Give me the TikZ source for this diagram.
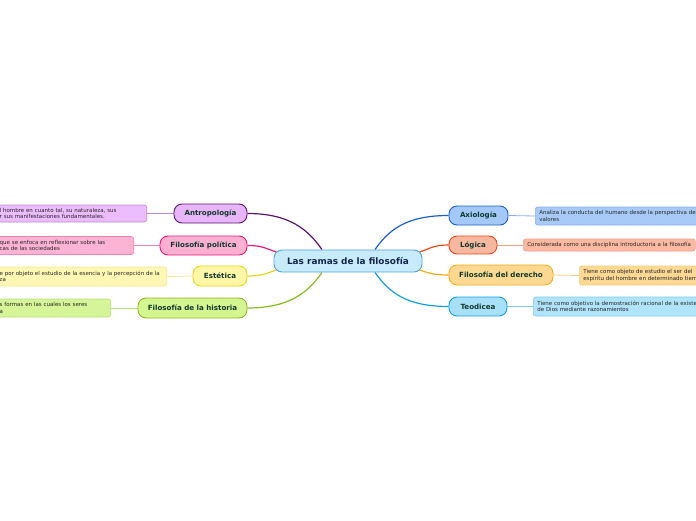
\documentclass[tikz,border=0pt]{standalone}
\usepackage{fontspec}
\setmainfont{DejaVu Sans}
\usetikzlibrary{calc,backgrounds}
\definecolor{toptext}{HTML}{0F3A2E}
\definecolor{maintext}{HTML}{14264A}
\definecolor{cfill}{HTML}{C8EBFB}\definecolor{cdraw}{HTML}{4FA3DC}
\definecolor{afill}{HTML}{E8B6F8}\definecolor{adraw}{HTML}{5A1470}\definecolor{adfill}{HTML}{ECBDFC}\definecolor{adln}{HTML}{B888D0}
\definecolor{pfill}{HTML}{FBB0D2}\definecolor{pdraw}{HTML}{E8187A}\definecolor{pdfill}{HTML}{FDB3D3}\definecolor{pdln}{HTML}{F080B0}
\definecolor{efill}{HTML}{FFF6A8}\definecolor{edraw}{HTML}{E8D418}\definecolor{edfill}{HTML}{FFF8B4}\definecolor{edln}{HTML}{F4E890}
\definecolor{hfill}{HTML}{D4F590}\definecolor{hdraw}{HTML}{8AB820}\definecolor{hdfill}{HTML}{D6F598}\definecolor{hdln}{HTML}{B8E07A}
\definecolor{xfill}{HTML}{A4C8F8}\definecolor{xdraw}{HTML}{1A5FCC}\definecolor{xdfill}{HTML}{A8CAF8}\definecolor{xdln}{HTML}{88B0EC}
\definecolor{lfill}{HTML}{F8B8A0}\definecolor{ldraw}{HTML}{F04818}\definecolor{ldfill}{HTML}{FBB9A2}\definecolor{ldln}{HTML}{F4A088}
\definecolor{dfill}{HTML}{FDD890}\definecolor{ddraw}{HTML}{F4AC18}\definecolor{ddfill}{HTML}{FDD993}\definecolor{ddln}{HTML}{F4CC80}
\definecolor{tfill}{HTML}{A8E0F8}\definecolor{tdraw}{HTML}{10A0E0}\definecolor{tdfill}{HTML}{B0E4FA}\definecolor{tdln}{HTML}{80CCF0}
\begin{document}
\begin{tikzpicture}[x=1pt,y=-1pt,
  topic/.style={draw, rounded corners=8pt, line width=0.9pt, font=\bfseries\fontsize{7.1}{8}\selectfont, text=toptext, inner sep=0pt},
  detail/.style={draw, rounded corners=2.5pt, line width=0.6pt, font=\fontsize{5.5}{6.6}\selectfont, align=left, inner xsep=4pt, inner ysep=0pt, text=black!85},
  mainln/.style={line width=1.2pt},
  subln/.style={line width=0.8pt}]
\useasboundingbox (0,0) rectangle (696,520);
\clip (0,0) rectangle (696,520);
% central
\node[draw=cdraw, fill=cfill, rounded corners=8pt, line width=0.9pt, minimum width=148pt, minimum height=22pt, inner sep=0pt, font=\bfseries\fontsize{8.9}{10}\selectfont, text=maintext] (c) at (348,261) {Las ramas de la filosofía};
% topics left
\node[topic, draw=adraw, fill=afill, minimum width=73pt, minimum height=19pt] (a) at (210.5,213.5) {Antropología};
\node[topic, draw=pdraw, fill=pfill, minimum width=87pt, minimum height=19pt] (p) at (203.5,245.5) {Filosofía política};
\node[topic, draw=edraw, fill=efill, minimum width=54pt, minimum height=20pt] (e) at (220,276) {Estética};
\node[topic, draw=hdraw, fill=hfill, minimum width=109pt, minimum height=20pt] (h) at (192.5,308) {Filosofía de la historia};
% topics right
\node[topic, draw=xdraw, fill=xfill, minimum width=59pt, minimum height=19pt] (x) at (478.5,215.5) {Axiología};
\node[topic, draw=ldraw, fill=lfill, minimum width=48pt, minimum height=18pt] (l) at (473,245) {Lógica};
\node[topic, draw=ddraw, fill=dfill, minimum width=104pt, minimum height=20pt] (d) at (501,275) {Filosofía del derecho};
\node[topic, draw=tdraw, fill=tfill, minimum width=58pt, minimum height=19pt] (t) at (478,306.5) {Teodicea};
% details left
\node[detail, draw=adln, fill=adfill, anchor=east, text width=142pt, inner xsep=5pt, minimum height=17pt] (ad) at (147,213.5) {l hombre en cuanto tal, su naturaleza, sus\\r sus manifestaciones fundamentales.};
\node[detail, draw=pdln, fill=pdfill, anchor=east, text width=129pt, inner xsep=5pt, minimum height=18pt] (pd) at (134,245.5) {que se enfoca en reflexionar sobre las\\cas de las sociedades};
\node[detail, draw=edln, fill=edfill, anchor=east, text width=162pt, inner xsep=5pt, minimum height=19pt] (ed) at (167,276.5) {e por objeto el estudio de la esencia y la percepción de la\\za};
\node[detail, draw=hdln, fill=hdfill, anchor=east, text width=106pt, inner xsep=5pt, minimum height=18pt] (hd) at (111,308) {s formas en las cuales los seres\\a};
% details right
\node[detail, draw=xdln, fill=xdfill, anchor=west, text width=200pt, minimum height=18pt] (xd) at (535,216) {Analiza la conducta del humano desde la perspectiva de\\valores};
\node[detail, draw=ldln, fill=ldfill, anchor=west, text width=164pt, minimum height=12pt] (ld) at (523,245) {Considerada como una disciplina introductoria a la filosofía};
\node[detail, draw=ddln, fill=ddfill, anchor=west, text width=180pt, minimum height=19pt] (dd) at (579,275.5) {Tiene como objeto de estudio el ser del\\espíritu del hombre en determinado tiem};
\node[detail, draw=tdln, fill=tdfill, anchor=west, text width=200pt, minimum height=19pt] (td) at (533,306.5) {Tiene como objetivo la demostración racional de la existe\\de Dios mediante razonamientos};
\begin{scope}[on background layer]
% main connectors
\draw[mainln, adraw] (a.east) .. controls +(42,0) and +(-14,-20) .. ([xshift=-26pt]c.north);
\draw[mainln, pdraw] (p.east) .. controls +(16,0) and +(-10,-3) .. ([yshift=9pt,xshift=3pt]c.west);
\draw[mainln, edraw] (e.east) .. controls +(16,0) and +(-10,3) .. ([yshift=-9pt,xshift=3pt]c.west);
\draw[mainln, hdraw] (h.east) .. controls +(42,0) and +(-14,20) .. ([xshift=-26pt]c.south);
\draw[mainln, xdraw] (x.west) .. controls +(-42,0) and +(14,-20) .. ([xshift=27pt]c.north);
\draw[mainln, ldraw] (l.west) .. controls +(-16,0) and +(10,-3) .. ([yshift=9pt,xshift=-3pt]c.east);
\draw[mainln, ddraw] (d.west) .. controls +(-16,0) and +(10,3) .. ([yshift=-9pt,xshift=-3pt]c.east);
\draw[mainln, tdraw] (t.west) .. controls +(-42,0) and +(14,20) .. ([xshift=27pt]c.south);
% sub connectors
\draw[subln, adln] (a.west) -- (ad.east);
\draw[subln, pdln] (p.west) -- (pd.east);
\draw[subln, edln] (e.west) -- (ed.east);
\draw[subln, hdln] (h.west) -- (hd.east);
\draw[subln, xdln] (x.east) -- (xd.west);
\draw[subln, ldln] (l.east) -- (ld.west);
\draw[subln, ddln] (d.east) -- (dd.west);
\draw[subln, tdln] (t.east) -- (td.west);
\end{scope}
\end{tikzpicture}
\end{document}
